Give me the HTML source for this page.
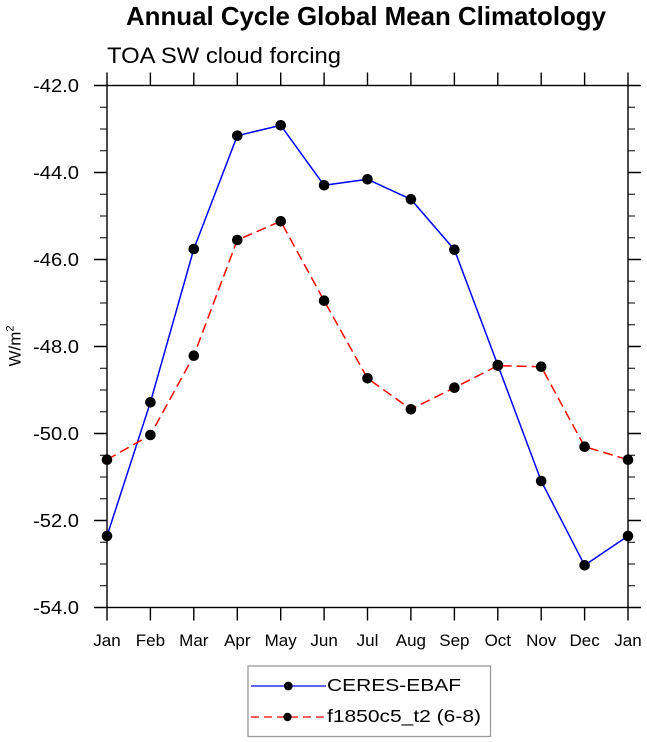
<!DOCTYPE html>
<html><head><meta charset="utf-8"><style>
html,body{margin:0;padding:0;background:#fff;}
svg{display:block;font-family:"Liberation Sans",Arial,sans-serif;}
</style></head><body>
<svg width="647" height="742" viewBox="0 0 647 742" xmlns="http://www.w3.org/2000/svg">
<rect width="647" height="742" fill="#fff"/>
<text x="366" y="25" font-size="26" font-weight="bold" text-anchor="middle" textLength="480" lengthAdjust="spacingAndGlyphs">Annual Cycle Global Mean Climatology</text>
<text x="107" y="63" font-size="22" textLength="234" lengthAdjust="spacingAndGlyphs">TOA SW cloud forcing</text>

<g stroke="#000" stroke-width="1.4" fill="none">
<rect x="107" y="85.5" width="521" height="522"/>
<path d="M107,607.5v13M150.4,607.5v13M193.8,607.5v13M237.3,607.5v13M280.7,607.5v13M324.1,607.5v13M367.5,607.5v13M410.9,607.5v13M454.4,607.5v13M497.8,607.5v13M541.2,607.5v13M584.6,607.5v13M628,607.5v13"/>
<path d="M107,85.5v-13M150.4,85.5v-13M193.8,85.5v-13M237.3,85.5v-13M280.7,85.5v-13M324.1,85.5v-13M367.5,85.5v-13M410.9,85.5v-13M454.4,85.5v-13M497.8,85.5v-13M541.2,85.5v-13M584.6,85.5v-13M628,85.5v-13"/>
<path d="M107,85.5h-13M107,172.5h-13M107,259.5h-13M107,346.5h-13M107,433.5h-13M107,520.5h-13M107,607.5h-13"/>
<path d="M628,85.5h13M628,172.5h13M628,259.5h13M628,346.5h13M628,433.5h13M628,520.5h13M628,607.5h13"/>
</g>
<g stroke="#000" stroke-width="1" fill="none">
<path d="M107,107.25h-7M107,129h-7M107,150.75h-7M107,194.25h-7M107,216h-7M107,237.75h-7M107,281.25h-7M107,303h-7M107,324.75h-7M107,368.25h-7M107,390h-7M107,411.75h-7M107,455.25h-7M107,477h-7M107,498.75h-7M107,542.25h-7M107,564h-7M107,585.75h-7"/>
<path d="M628,107.25h7M628,129h7M628,150.75h7M628,194.25h7M628,216h7M628,237.75h7M628,281.25h7M628,303h7M628,324.75h7M628,368.25h7M628,390h7M628,411.75h7M628,455.25h7M628,477h7M628,498.75h7M628,542.25h7M628,564h7M628,585.75h7"/>
</g>

<g font-size="18" text-anchor="end">
<text x="79" y="92" textLength="46" lengthAdjust="spacingAndGlyphs">-42.0</text>
<text x="79" y="179" textLength="46" lengthAdjust="spacingAndGlyphs">-44.0</text>
<text x="79" y="266" textLength="46" lengthAdjust="spacingAndGlyphs">-46.0</text>
<text x="79" y="353" textLength="46" lengthAdjust="spacingAndGlyphs">-48.0</text>
<text x="79" y="440" textLength="46" lengthAdjust="spacingAndGlyphs">-50.0</text>
<text x="79" y="527" textLength="46" lengthAdjust="spacingAndGlyphs">-52.0</text>
<text x="79" y="614" textLength="46" lengthAdjust="spacingAndGlyphs">-54.0</text>
</g>
<g font-size="17" text-anchor="middle">
<text x="107" y="646">Jan</text><text x="150.4" y="646">Feb</text><text x="193.8" y="646">Mar</text><text x="237.3" y="646">Apr</text><text x="280.7" y="646">May</text><text x="324.1" y="646">Jun</text><text x="367.5" y="646">Jul</text><text x="410.9" y="646">Aug</text><text x="454.4" y="646">Sep</text><text x="497.8" y="646">Oct</text><text x="541.2" y="646">Nov</text><text x="584.6" y="646">Dec</text><text x="628" y="646">Jan</text>
</g>
<text transform="translate(20.5,346) rotate(-90)" font-size="17" text-anchor="middle">W/m<tspan font-size="11" dy="-7">2</tspan></text>

<polyline fill="none" stroke="#0000ff" stroke-width="1.5" points="107,536 150.4,402.3 193.8,249 237.3,135.7 280.7,125.3 324.1,185.3 367.5,179.3 410.9,199.3 454.4,249.7 497.8,365 541.2,481 584.6,565.3 628,536"/>
<polyline fill="none" stroke="#ff0000" stroke-width="1.5" stroke-dasharray="10 5" points="107,459.7 150.4,435 193.8,355.7 237.3,240 280.7,221.3 324.1,300.7 367.5,378.3 410.9,409.3 454.4,387.7 497.8,365.7 541.2,366.7 584.6,446.7 628,459.7"/>
<g fill="#000">
<circle cx="107" cy="536" r="5.3"/><circle cx="150.4" cy="402.3" r="5.3"/><circle cx="193.8" cy="249" r="5.3"/><circle cx="237.3" cy="135.7" r="5.3"/><circle cx="280.7" cy="125.3" r="5.3"/><circle cx="324.1" cy="185.3" r="5.3"/><circle cx="367.5" cy="179.3" r="5.3"/><circle cx="410.9" cy="199.3" r="5.3"/><circle cx="454.4" cy="249.7" r="5.3"/><circle cx="497.8" cy="365" r="5.3"/><circle cx="541.2" cy="481" r="5.3"/><circle cx="584.6" cy="565.3" r="5.3"/><circle cx="628" cy="536" r="5.3"/>
<circle cx="107" cy="459.7" r="5.3"/><circle cx="150.4" cy="435" r="5.3"/><circle cx="193.8" cy="355.7" r="5.3"/><circle cx="237.3" cy="240" r="5.3"/><circle cx="280.7" cy="221.3" r="5.3"/><circle cx="324.1" cy="300.7" r="5.3"/><circle cx="367.5" cy="378.3" r="5.3"/><circle cx="410.9" cy="409.3" r="5.3"/><circle cx="454.4" cy="387.7" r="5.3"/><circle cx="497.8" cy="365.7" r="5.3"/><circle cx="541.2" cy="366.7" r="5.3"/><circle cx="584.6" cy="446.7" r="5.3"/><circle cx="628" cy="459.7" r="5.3"/>
</g>

<rect x="248" y="666" width="242.5" height="70.5" fill="#fff" stroke="#999" stroke-width="1.3"/>
<line x1="251" y1="686" x2="326" y2="686" stroke="#0000ff" stroke-width="1.3"/>
<circle cx="288.3" cy="686" r="4.4" fill="#000"/>
<line x1="251" y1="717" x2="326" y2="717" stroke="#ff0000" stroke-width="1.3" stroke-dasharray="8 5"/>
<circle cx="287.5" cy="717" r="4.2" fill="#000"/>
<text x="327" y="691" font-size="17.5" textLength="134" lengthAdjust="spacingAndGlyphs">CERES-EBAF</text>
<text x="327" y="722" font-size="17.5" textLength="154" lengthAdjust="spacingAndGlyphs">f1850c5_t2 (6-8)</text>
</svg>
</body></html>
